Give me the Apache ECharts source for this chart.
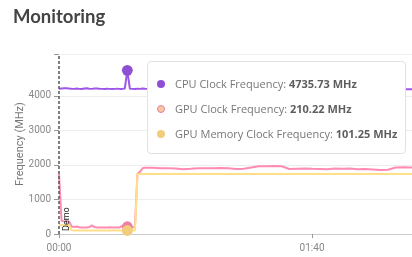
<!DOCTYPE html>
<html>
<head>
<meta charset="utf-8">
<script src="https://cdn.jsdelivr.net/npm/echarts@6/dist/echarts.min.js"></script>
<style>
  html, body { margin: 0; padding: 0; background: #fff; }
  #chart { width: 412px; height: 257px; }
</style>
</head>
<body>
<div id="chart"></div>
<script>
// ---- data (seconds since start, MHz) ----
const times = [0,1,2,3,4,5,6,7,8,9,10,11,12,13,14,15,16,17,18,19,20,21,22,23,24,25,26,27,28,29,30,31,32,33,34,
  37,40,43,46,49,52,55,58,61,64,67,70,73,76,79,82,85,88,91,94,97,100,103,106,109,112,115,118,121,124,127,130,133,136,139,142];

const cpuClock = [4205,4210,4215,4220,4212,4205,4200,4208,4200,4195,4210,4215,4205,4200,4210,4212,4205,4200,4198,4205,4200,4198,4200,4205,4200,4200,4210,4735.73,4205,4200,4198,4205,4200,4210,4205,
  4200,4205,4210,4200,4195,4205,4200,4210,4205,4200,4198,4205,4200,4210,4205,4200,4195,4200,4205,4210,4200,4198,4205,4200,4195,4200,4205,4200,4198,4200,4195,4200,4190,4192,4190,4195];

const gpuClock = [1740,380,370,365,360,215,205,215,195,185,190,190,200,250,200,190,190,190,190,190,192,190,190,190,190,235,240,210.22,195,195,200,1740,1800,1900,1915,
  1915,1905,1900,1895,1875,1885,1900,1905,1900,1910,1905,1880,1890,1925,1960,1960,1965,1960,1880,1890,1895,1885,1880,1875,1895,1890,1895,1875,1880,1870,1855,1860,1925,1930,1925,1930];

const gpuMemClock = [270,265,260,260,255,105,100,100,100,100,100,100,100,100,100,100,100,100,100,100,100,100,100,100,100,100,100,101.25,100,100,100,1730,1740,1740,1740,
  1740,1740,1740,1740,1740,1740,1740,1740,1740,1740,1740,1740,1740,1740,1740,1740,1740,1740,1740,1740,1740,1740,1740,1740,1740,1740,1740,1740,1740,1740,1740,1740,1740,1740,1740,1740];

const seriesNames = ['CPU Clock Frequency', 'GPU Clock Frequency', 'GPU Memory Clock Frequency'];
const xTickValues = [0, 100];
const yLabelValues = [0, 1000, 2000, 3000, 4000];
const markLineX = 0;
const markLineName = 'Demo';
const hoverIndex = 27;

const colors = ['#8f4fd3', '#ec7fa3', '#f0cc7c'];

const yMax = Math.max(...cpuClock) * 1.1;

function mmss(v) {
  const m = Math.floor(v / 60), s = Math.round(v % 60);
  return String(m).padStart(2, '0') + ':' + String(s).padStart(2, '0');
}

const chart = echarts.init(document.getElementById('chart'), null, { renderer: 'canvas' });
const fontFam = 'Roboto, "Noto Sans", sans-serif';

function mkSeries(i, arr) {
  return {
    name: seriesNames[i],
    type: 'line',
    data: times.map((t, k) => [t, arr[k]]),
    showSymbol: false,
    symbol: 'circle',
    symbolSize: 9,
    lineStyle: { width: 2, color: colors[i] },
    itemStyle: { color: colors[i] },
    emphasis: { scale: 1.2, lineStyle: { width: 2 } },
    z: 2 + i
  };
}

const s0 = mkSeries(0, cpuClock);
s0.markLine = {
  silent: true,
  symbol: ['none', 'none'],
  lineStyle: { color: '#555', type: [3, 2], width: 1.5 },
  label: { show: true, formatter: '{b}', position: 'insideStartBottom', color: '#222', fontSize: 9, fontFamily: fontFam, distance: 3 },
  data: [{ xAxis: markLineX, name: markLineName }]
};

const option = {
  animation: false,
  title: {
    text: 'Monitoring', left: 13, top: 8, padding: 0,
    textStyle: { fontFamily: 'Lato', fontWeight: 'bold', fontSize: 18.5, color: '#444' }
  },
  grid: { left: 59, right: 0, top: 54, bottom: 23, containLabel: false },
  tooltip: {
    trigger: 'axis',
    triggerOn: 'none',
    alwaysShowContent: true,
    axisPointer: { type: 'line', lineStyle: { opacity: 0 } },
    position: [147, 61],
    transitionDuration: 0,
    padding: [9, 8, 7, 9],
    backgroundColor: '#fff',
    borderColor: '#e2e2e2',
    borderWidth: 1,
    extraCssText: 'border-radius:4px;box-shadow:none;',
    formatter: function (params) {
      const markers = [
        '<span style="display:inline-block;width:8px;height:8px;border-radius:50%;background:' + colors[0] + ';"></span>',
        '<span style="display:inline-block;width:6px;height:6px;border-radius:50%;background:#f5c9a0;border:1px solid ' + colors[1] + ';"></span>',
        '<span style="display:inline-block;width:8px;height:8px;border-radius:50%;background:' + colors[2] + ';"></span>'
      ];
      return params.map(p =>
        '<div style="height:25px;line-height:25px;white-space:nowrap;font-family:\'Open Sans\',sans-serif;font-size:11px;color:#777;">' +
        '<span style="display:inline-block;width:18px;">' + markers[p.seriesIndex] + '</span>' +
        p.seriesName + ': <b style="color:#5e5e5e;">' + p.value[1].toFixed(2) + ' MHz</b></div>'
      ).join('');
    }
  },
  xAxis: {
    type: 'value',
    min: 0,
    max: 139.5,
    interval: 100,
    axisLine: { show: true, lineStyle: { color: '#ccc' } },
    axisTick: { show: true, length: 4, lineStyle: { color: '#999' }, customValues: xTickValues },
    axisLabel: { color: '#888', fontSize: 10, fontFamily: fontFam, margin: 9, customValues: xTickValues, formatter: mmss },
    splitLine: { show: false }
  },
  yAxis: {
    type: 'value',
    min: 0,
    max: yMax,
    interval: 500,
    name: 'Frequency (MHz)',
    nameLocation: 'middle',
    nameGap: 33,
    nameMoveOverlap: false,
    nameTextStyle: { color: '#777', fontSize: 11, fontFamily: fontFam },
    axisLine: { show: false },
    axisTick: { show: true, length: 5, lineStyle: { color: '#999' }, customValues: yLabelValues.concat([yMax]) },
    axisLabel: { color: '#888', fontSize: 10, fontFamily: fontFam, margin: 8, customValues: yLabelValues, formatter: v => String(v) },
    splitLine: { show: true, lineStyle: { color: '#eee', width: 1 } }
  },
  series: [s0, mkSeries(1, gpuClock), mkSeries(2, gpuMemClock)]
};

chart.setOption(option);
chart.dispatchAction({ type: 'showTip', seriesIndex: 0, dataIndex: hoverIndex });
</script>
</body>
</html>
